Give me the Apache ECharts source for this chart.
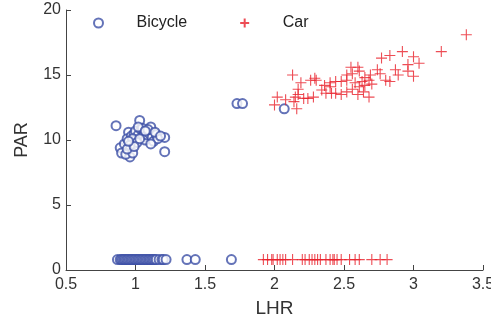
<!DOCTYPE html>
<html>
<head>
<meta charset="utf-8">
<script src="https://cdn.jsdelivr.net/npm/echarts@6/dist/echarts.min.js"></script>
<style>
  html, body { margin: 0; padding: 0; background: #fff; }
  #chart { width: 491px; height: 324px; }
</style>
</head>
<body>
<div id="chart"></div>
<script>
// 坐标轴刻度
var xTicks = [0.5, 1, 1.5, 2, 2.5, 3, 3.5];
var yTicks = [0, 5, 10, 15, 20];

// 自行车 - 上方簇 [LHR, PAR]
var bicycleUpper = [
  [0.86, 11.1], [1.03, 11.5], [1.11, 11.0], [1.21, 10.2], [1.21, 9.1],
  [0.95, 10.6], [0.89, 9.4], [0.90, 9.0], [0.96, 8.7], [0.93, 8.9],
  [0.98, 9.0], [0.92, 9.7], [0.94, 10.1], [0.97, 10.3], [0.99, 10.5],
  [1.00, 10.7], [1.02, 10.4], [1.04, 10.8], [1.05, 10.2], [1.06, 10.6],
  [1.07, 10.0], [1.08, 10.4], [1.10, 10.5], [1.12, 10.2], [1.13, 9.9],
  [1.15, 10.4], [1.16, 10.1], [1.00, 10.0], [0.98, 10.1], [1.01, 9.8],
  [1.03, 10.1], [1.05, 10.9], [1.09, 10.8], [0.96, 9.6], [0.94, 9.3],
  [1.02, 11.0], [1.07, 10.7], [1.11, 9.7], [0.99, 9.5], [1.14, 10.6],
  [1.18, 10.3], [0.95, 9.9],
  [1.73, 12.8], [1.77, 12.8], [2.07, 12.4]
];
// 自行车 - 底部一行 (PAR≈0.8)
var bicycleLowLHR = [
  0.87, 0.89, 0.90, 0.91, 0.92, 0.93, 0.94, 0.95, 0.96, 0.97, 0.98, 0.99,
  1.00, 1.01, 1.02, 1.03, 1.04, 1.05, 1.06, 1.07, 1.08, 1.09, 1.10, 1.11,
  1.12, 1.13, 1.14, 1.15, 1.17, 1.19, 1.20, 1.22, 1.37, 1.43, 1.69
];
var lowPAR = 0.8;

// 汽车 - 上方簇
var carUpper = [
  [3.38, 18.1], [3.20, 16.8], [2.92, 16.8], [2.83, 16.5], [2.77, 16.3],
  [3.00, 16.4], [3.04, 15.9], [2.96, 15.8], [2.87, 15.4], [2.96, 15.3],
  [3.00, 14.9], [2.89, 15.0], [2.74, 15.4], [2.76, 15.1], [2.69, 15.0],
  [2.80, 14.6], [2.83, 14.5], [2.55, 15.6], [2.60, 15.6], [2.61, 15.3],
  [2.56, 15.1], [2.52, 15.0], [2.65, 14.8], [2.68, 14.6], [2.63, 14.5],
  [2.58, 14.4], [2.52, 14.6], [2.48, 14.5], [2.44, 14.5], [2.40, 14.4],
  [2.29, 14.75], [2.30, 14.6], [2.26, 14.6], [2.13, 15.0], [2.19, 14.4],
  [2.17, 13.9], [2.34, 13.85], [2.37, 13.6], [2.41, 13.6], [2.44, 13.6],
  [2.48, 13.5], [2.52, 13.7], [2.56, 13.9], [2.61, 14.1], [2.65, 14.2],
  [2.64, 13.7], [2.68, 13.3], [2.60, 13.5], [2.70, 14.3], [2.28, 13.3],
  [2.24, 13.2], [2.21, 13.2], [2.15, 13.3], [2.14, 12.95], [2.16, 12.4],
  [2.02, 13.3], [2.00, 12.7], [2.08, 13.1], [2.17, 13.5], [2.36, 14.2],
  [2.40, 14.1]
];
// 汽车 - 底部一行
var carLowLHR = [
  1.92, 1.95, 1.98, 1.99, 2.02, 2.04, 2.06, 2.08, 2.13, 2.20, 2.22, 2.25,
  2.27, 2.29, 2.31, 2.33, 2.37, 2.40, 2.42, 2.43, 2.45, 2.48, 2.54, 2.58,
  2.61, 2.70, 2.76, 2.81
];

var bicycleData = bicycleUpper.concat(bicycleLowLHR.map(function (v) { return [v, lowPAR]; }));
var carData = carUpper.concat(carLowLHR.map(function (v) { return [v, lowPAR]; }));

var chart = echarts.init(document.getElementById('chart'), null, { renderer: 'canvas' });

var plusPath = 'path://M0,5 L10,5 M5,0 L5,10';
var textColor = '#333';
var axisColor = '#444';

var option = {
  animation: false,
  textStyle: { fontFamily: 'Liberation Sans, Arial, sans-serif' },
  grid: { left: 66, right: 8, top: 10, bottom: 54, outerBoundsMode: 'none', containLabel: false },
  legend: {
    left: 88,
    top: 10,
    itemWidth: 66,
    itemHeight: 9,
    itemGap: 52,
    textStyle: { fontSize: 16, color: '#222' },
    data: ['Bicycle', 'Car']
  },
  xAxis: {
    type: 'value',
    min: xTicks[0],
    max: xTicks[xTicks.length - 1],
    interval: 0.5,
    name: 'LHR',
    nameLocation: 'middle',
    nameGap: 29,
    nameTextStyle: { fontSize: 19, color: textColor },
    axisLine: { show: true, lineStyle: { color: axisColor, width: 1 } },
    axisTick: { show: true, inside: true, length: 5, lineStyle: { color: axisColor } },
    axisLabel: { fontSize: 16, color: textColor, margin: 7 },
    splitLine: { show: false }
  },
  yAxis: {
    type: 'value',
    min: yTicks[0],
    max: yTicks[yTicks.length - 1],
    interval: 5,
    name: 'PAR',
    nameLocation: 'middle',
    nameGap: 35,
    nameRotate: 90,
    nameTextStyle: { fontSize: 18, color: textColor },
    axisLine: { show: true, lineStyle: { color: axisColor, width: 1 } },
    axisTick: { show: true, inside: true, length: 5, lineStyle: { color: axisColor } },
    axisLabel: { fontSize: 16, color: textColor, margin: 5 },
    splitLine: { show: false }
  },
  series: [{
    name: 'Bicycle',
    type: 'scatter',
    symbol: 'emptyCircle',
    symbolSize: 9,
    itemStyle: { color: '#3d50a6', borderColor: '#3d50a6', borderWidth: 1 },
    data: bicycleData
  }, {
    name: 'Car',
    type: 'scatter',
    symbol: plusPath,
    symbolSize: 11,
    itemStyle: { color: 'rgba(0,0,0,0)', borderColor: '#e8202a', borderWidth: 1.1 },
    data: carData
  }]
};

chart.setOption(option);
</script>
</body>
</html>
